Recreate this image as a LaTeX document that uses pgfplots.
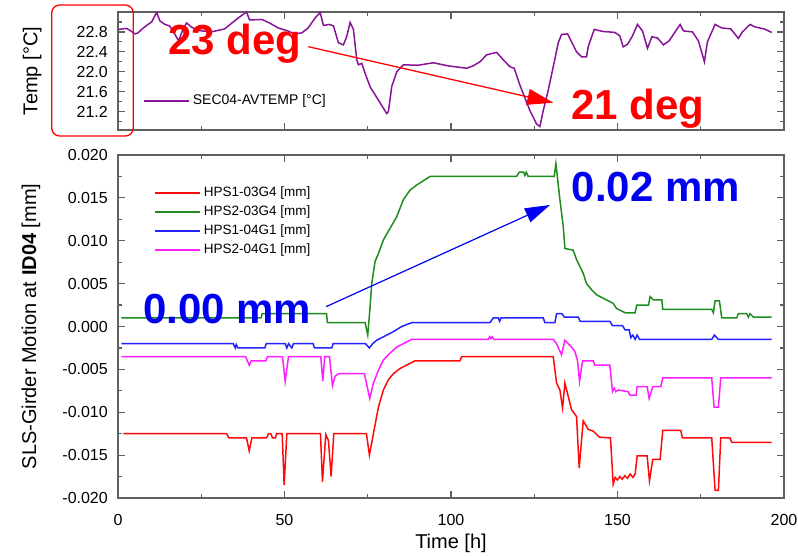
\documentclass[border=0pt]{standalone}
\usepackage{fontspec}
\setmainfont{Liberation Sans}
\usepackage{pgfplots}
\pgfplotsset{compat=1.18}
\usetikzlibrary{arrows.meta}

\definecolor{framegray}{RGB}{95,95,95}
\definecolor{tempcol}{RGB}{135,20,150}
\definecolor{hpsred}{RGB}{255,10,10}
\definecolor{hpsgreen}{RGB}{30,140,30}
\definecolor{hpsblue}{RGB}{35,35,255}
\definecolor{hpsmag}{RGB}{255,30,255}
\definecolor{annred}{RGB}{255,0,0}
\definecolor{annblue}{RGB}{0,0,240}

\pgfplotsset{
  girder/.style={
    scale only axis, width=666bp,
    xmin=0, xmax=200, xtick={0,50,100,150,200}, minor x tick num=1,
    scaled y ticks=false, scaled x ticks=false,
    axis line style={draw=framegray, line width=1.5bp},
    every tick/.style={draw=framegray, line width=1.2bp},
    major tick length=7bp, minor tick length=4bp,
    tick label style={font=\fontsize{16bp}{18bp}\selectfont},
    /pgf/number format/assume math mode=true,
    label style={font=\fontsize{20bp}{24bp}\selectfont},
    xticklabel style={inner sep=0pt, yshift=-16bp},
    yticklabel style={inner sep=0pt, xshift=-10bp},
    legend cell align=left,
    legend image code/.code={\draw[#1, line width=1.7bp] (0bp,0bp) -- (45bp,0bp);},
    every axis plot/.append style={line width=1.5bp, mark=none},
  },
}

\begin{document}
\begin{tikzpicture}
\path[use as bounding box] (-118bp,-58bp) rectangle (680bp,498bp);

% girder motion
\begin{axis}[girder,
  at={(0,0)}, anchor=south west, height=343bp,
  ymin=-0.02, ymax=0.02,
  ytick={-0.02,-0.015,-0.01,-0.005,0,0.005,0.01,0.015,0.02},
  yticklabels={-0.020,-0.015,-0.010,-0.005,0.000,0.005,0.010,0.015,0.020},
  minor y tick num=1,
  xlabel={Time [h]},
  ylabel={SLS-Girder Motion at \textbf{ID04} [mm]},
  xlabel style={at={(axis description cs:0.5,-0.132)}, anchor=center},
  ylabel style={at={(axis description cs:-0.1306,0.5)}, anchor=center},
  legend style={at={(axis description cs:0.0495,0.9155)}, anchor=north west,
    draw=none, fill=none, font=\fontsize{13.5bp}{15bp}\selectfont,
    nodes={inner sep=0pt, text height=10bp, text depth=3bp},
    row sep=6bp, column sep=3bp},
]
\addplot[hpsred] coordinates {
(1.6,-0.0125)(32.6,-0.0125)(33.3,-0.013)(38.6,-0.013)(39.4,-0.0145)(40.2,-0.013)
(44.6,-0.013)(45.2,-0.0125)(45.9,-0.0125)(46.4,-0.013)(47.3,-0.013)(47.6,-0.0125)
(49.3,-0.0125)(49.9,-0.0185)(50.7,-0.0125)(60.8,-0.0125)(61.4,-0.0181)(62.4,-0.0126)
(63.2,-0.0133)(64,-0.0175)(64.8,-0.0125)(74.6,-0.0125)(75.5,-0.015)(76.7,-0.0125)
(78.2,-0.0094)(79.7,-0.0074)(81.2,-0.0062)(82.7,-0.0055)(84.7,-0.0049)(86.7,-0.0045)
(89.2,-0.004)(102.7,-0.004)(103.2,-0.0035)(130.7,-0.0035)(131.7,-0.0066)(132.7,-0.0074)
(133.5,-0.0095)(134.2,-0.0066)(136.2,-0.0097)(137.7,-0.0105)(138.5,-0.0165)(139.7,-0.011)
(141.2,-0.012)(142.7,-0.0122)(144.5,-0.0129)(147.9,-0.013)(148.7,-0.0184)(149.3,-0.0176)
(150,-0.0179)(150.7,-0.0175)(151.4,-0.0178)(152.2,-0.0174)(153,-0.0177)(153.8,-0.0172)
(154.6,-0.0176)(155.3,-0.0172)(155.9,-0.0151)(158.9,-0.0151)(159.6,-0.018)(160.6,-0.0155)
(162.8,-0.0155)(163.6,-0.0121)(169,-0.0121)(169.5,-0.013)(178.3,-0.013)(179.3,-0.0191)
(180.3,-0.0191)(181,-0.013)(183.8,-0.013)(184.3,-0.0135)(196.3,-0.0135)
};
\addlegendentry{HPS1-03G4 [mm]}
\addplot[hpsgreen] coordinates {
(1,0.001)(43,0.001)(43.3,0.0015)(62.6,0.0015)(62.9,0.00045)(74.2,0.00045)(75,-0.001)
(75.7,0.0023)(76.2,0.005)(77.2,0.0076)(78.2,0.0085)(79.7,0.0101)(81.7,0.01145)
(83.7,0.0128)(85.7,0.0148)(87.7,0.0159)(89.7,0.0165)(91.7,0.0170)(93.7,0.0175)
(119.7,0.0175)(120.5,0.018)(121.8,0.018)(122.2,0.0176)(122.6,0.018)(123.2,0.0175)
(131,0.0175)(131.5,0.019)(132.7,0.0148)(133.7,0.0117)(134.2,0.0091)(136.7,0.0089)
(137.7,0.0078)(139.7,0.0062)(140.7,0.005)(142.2,0.0043)(143.7,0.0037)(145.7,0.0033)
(148.7,0.0027)(149.7,0.0021)(152.3,0.0016)(155.3,0.0016)(155.8,0.0025)(159.3,0.0025)
(159.8,0.0035)(160.8,0.0031)(163.3,0.0031)(163.6,0.002)(178.3,0.002)(178.8,0.0016)
(179.3,0.003)(180.6,0.003)(181.3,0.001)(185.8,0.001)(186.3,0.0015)(188.8,0.0015)
(189.3,0.0011)(189.8,0.0015)(190.8,0.0011)(196.3,0.0011)
};
\addlegendentry{HPS2-03G4 [mm]}
\addplot[hpsblue] coordinates {
(1,-0.002)(34.6,-0.002)(35.2,-0.0025)(35.5,-0.0021)(36,-0.0025)(44.1,-0.0025)(44.5,-0.002)
(50.2,-0.002)(50.7,-0.0025)(51.2,-0.002)(52.2,-0.0025)(52.7,-0.002)(58.6,-0.002)
(59,-0.0025)(64.2,-0.0025)(64.6,-0.002)(74.3,-0.002)(75.5,-0.0025)(76.5,-0.002)
(77.7,-0.0016)(79.7,-0.0012)(82.7,-0.0006)(85.2,0)(88.2,0.00045)(111.7,0.00045)
(112.7,0.001)(114.2,0.001)(114.6,0.0006)(115,0.001)(127.7,0.001)(128.2,0.00045)
(131.2,0.00045)(131.7,0.0015)(133.3,0.0015)(134,0.0011)(138.2,0.0011)(138.8,0.0006)
(147.7,0.0006)(148.5,0.0001)(151.5,0.0001)(152.3,-0.0004)(153.5,-0.0004)(154,-0.0013)
(154.6,-0.001)(155.3,-0.0015)(155.9,-0.001)(156.6,-0.0015)(178.3,-0.0015)(179.1,-0.001)
(180.3,-0.0015)(196.3,-0.0015)
};
\addlegendentry{HPS1-04G1 [mm]}
\addplot[hpsmag] coordinates {
(1,-0.0035)(38.3,-0.0035)(39.4,-0.0045)(40,-0.004)(44.4,-0.004)(44.9,-0.0035)
(49.4,-0.0035)(50.2,-0.0064)(51.2,-0.0035)(60.9,-0.0035)(61.5,-0.0064)(62.1,-0.0035)
(63.5,-0.0035)(64.4,-0.0069)(65.2,-0.0058)(66.2,-0.0055)(74,-0.0055)(75.6,-0.0084)
(76.7,-0.0066)(78.2,-0.0051)(79.7,-0.0039)(81.7,-0.0031)(83.7,-0.0024)(85.7,-0.002)
(88.2,-0.0015)(111.2,-0.0015)(111.6,-0.0012)(112,-0.0014)(112.4,-0.0012)(112.9,-0.0015)
(130.7,-0.0015)(131.7,-0.002)(133.2,-0.0033)(134.2,-0.0016)(136.2,-0.0024)(137.2,-0.0029)
(138,-0.004)(138.6,-0.0064)(139.5,-0.004)(142.7,-0.004)(143.2,-0.0045)(147.7,-0.0045)
(148.5,-0.0076)(149,-0.0072)(149.5,-0.0076)(150.2,-0.0074)(153.2,-0.0076)(153.7,-0.008)
(155.6,-0.008)(155.9,-0.007)(158.9,-0.007)(159.5,-0.0084)(160.6,-0.007)(163,-0.007)
(163.6,-0.006)(178.3,-0.006)(179,-0.0094)(180.3,-0.0094)(181,-0.006)(196.3,-0.006)
};
\addlegendentry{HPS2-04G1 [mm]}
\end{axis}

% sector temperature
\begin{axis}[girder,
  at={(0,368bp)}, anchor=south west, height=118bp,
  ymin=20.83, ymax=23.2,
  ytick={21.2,21.6,22.0,22.4,22.8},
  yticklabels={21.2,21.6,22.0,22.4,22.8},
  minor ytick={21.0,21.4,21.8,22.2,22.6,23.0},
  xticklabels={},
  ylabel={Temp [°C]},
  ylabel style={at={(axis description cs:-0.129,0.5)}, anchor=center},
  legend style={at={(axis description cs:0.033,0.324)}, anchor=north west,
    draw=none, fill=none, font=\fontsize{14bp}{16bp}\selectfont,
    nodes={inner sep=0pt, text height=10.5bp, text depth=3bp},
    column sep=3bp},
]
\addplot[tempcol] coordinates {
(0.1,22.85)(2.6,22.87)(3.6,22.83)(5.1,22.76)(6,22.78)(7.1,22.85)(8.6,22.93)(10.1,23.0)
(11.6,23.19)(12.6,23.02)(14.1,22.95)(15.5,22.92)(17.1,22.75)(18.2,22.62)(19.5,22.85)
(20.6,22.98)(22,22.9)(24,22.83)(28,22.8)(32,22.86)(36.1,23.08)(38.6,23.2)(39.5,23.04)
(43.2,23.05)(45.5,22.98)(48.1,22.88)(51,22.82)(53,22.76)(55.2,22.78)(57.1,22.88)
(59.2,23.08)(60.7,23.19)(61.7,22.93)(63.5,22.95)(64.7,22.92)(66.2,22.58)(67.7,22.54)
(68.7,22.71)(69.7,22.99)(70.7,22.85)(71.7,22.24)(72.2,22.14)(73.2,22.17)(74.2,21.97)
(75.7,21.70)(78.2,21.43)(80.7,21.16)(81.2,21.2)(82.2,21.70)(83.7,22.0)(85.7,22.14)
(90,22.13)(94.7,22.18)(99,22.12)(104.7,22.07)(106.7,22.12)(108.7,22.2)(110.7,22.34)
(113.7,22.39)(115.7,22.24)(117.7,22.10)(119,22.07)(120.7,21.73)(123.7,21.22)
(125.7,20.95)(126.7,20.9)(127.7,21.22)(129.2,21.63)(130.7,22.10)(132.2,22.58)
(133.2,22.75)(135,22.76)(137.7,22.4)(139.2,22.3)(140.7,22.3)(141.2,22.5)(143,22.85)
(145.5,22.81)(149.2,22.79)(150.7,22.72)(151.7,22.5)(153,22.55)(154.5,22.72)(156,22.95)
(157.5,22.82)(159,22.47)(160.3,22.7)(162,22.68)(163.8,22.54)(165.5,22.62)(167.3,22.8)
(168.8,22.95)(169.8,22.82)(172.5,22.8)(174.3,22.62)(176.1,22.2)(177,22.6)(179.3,22.95)
(181.3,22.88)(184,22.86)(186.3,22.67)(187.5,22.8)(189.8,22.95)(191.3,22.9)(194,22.86)
(196.3,22.79)
};
\addlegendentry{SEC04-AVTEMP [°C]}
\end{axis}

% annotations
\node[anchor=base west, inner sep=0pt, text=annred,
  font=\fontsize{42bp}{48bp}\selectfont\bfseries] at (50bp,443.7bp) {23 deg};
\node[anchor=base west, inner sep=0pt, text=annred,
  font=\fontsize{42bp}{48bp}\selectfont\bfseries] at (453bp,378bp) {21 deg};
\draw[annred, line width=1.3bp, -{Triangle[length=26bp,width=16bp]}]
  (190.3bp,451.3bp) -- (435.3bp,395.3bp);
\draw[annred, line width=1.3bp, rounded corners=8bp]
  (-66.3bp,362bp) rectangle (15.3bp,493bp);

\node[anchor=base west, inner sep=0pt, text=annblue,
  font=\fontsize{42bp}{48bp}\selectfont\bfseries] at (25bp,174.7bp) {0.00 mm};
\node[anchor=base west, inner sep=0pt, text=annblue,
  font=\fontsize{42bp}{48bp}\selectfont\bfseries] at (453.7bp,296.3bp) {0.02 mm};
\draw[annblue, line width=1.2bp, -{Triangle[length=25bp,width=15bp]}]
  (208bp,191.3bp) -- (432bp,293bp);
\end{tikzpicture}
\end{document}
